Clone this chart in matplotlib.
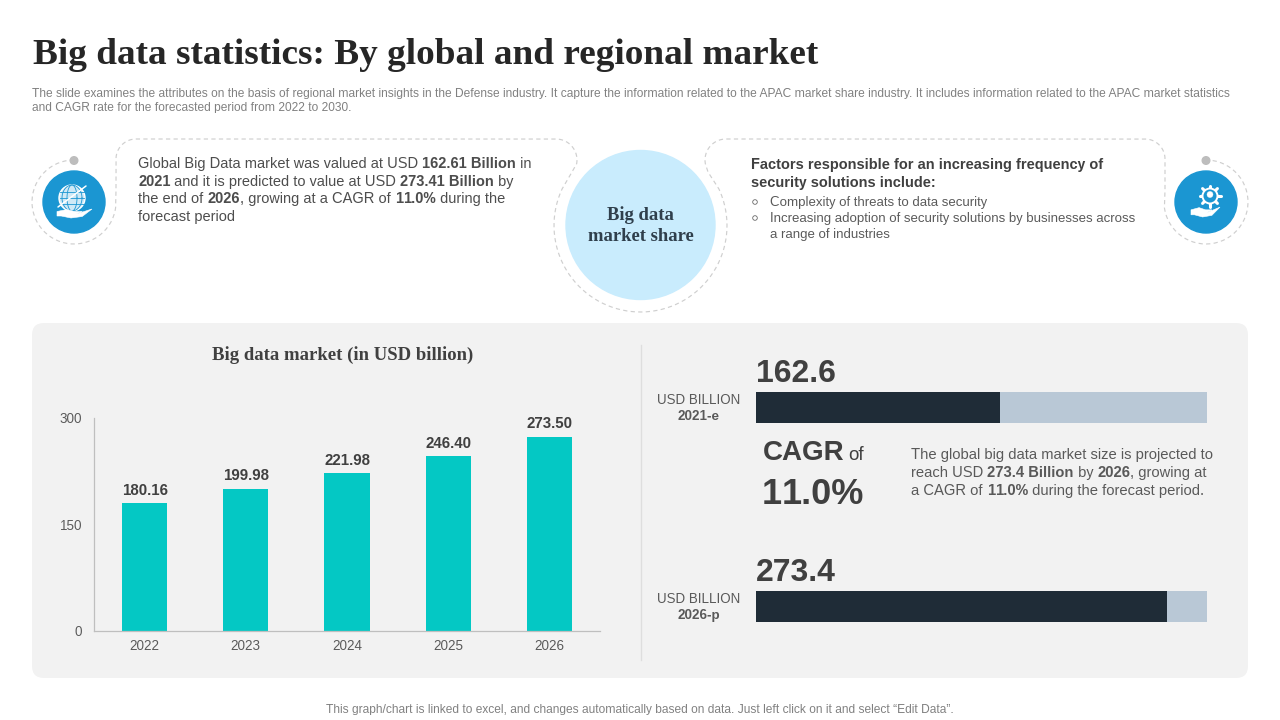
import numpy as np
import matplotlib
matplotlib.use("Agg")
import matplotlib.pyplot as plt
from matplotlib.patches import FancyBboxPatch, Circle, Polygon

years = ["2022", "2023", "2024", "2025", "2026"]
market = [180.16, 199.98, 221.98, 246.40, 273.50]
market_labels = ["180.16", "199.98", "221.98", "246.40", "273.50"]
yticks = [0, 150, 300]
share_values = [162.6, 273.4]
share_max = 300
share_labels = ["162.6", "273.4"]
share_periods = ["2021-e", "2026-p"]

SANS = "Liberation Sans"
SERIF = "Liberation Serif"
DARK = "#404040"
GREY = "#7f7f7f"
TEAL = "#04c8c4"
NAVY = "#1f2c37"
TRACK = "#b9c8d6"
BLUE = "#1b96d2"
DASH = "#cfcfcf"

plt.rcParams["font.family"] = [SANS, "DejaVu Sans"]
plt.rcParams["text.hinting"] = "no_autohint"
fig = plt.figure(figsize=(12.8, 7.2), dpi=100, facecolor="white")


def px_axes(x0, y0, x1, y1, **kw):
    return fig.add_axes([x0 / 1280, 1 - y1 / 720, (x1 - x0) / 1280, (y1 - y0) / 720], **kw)


ov = px_axes(0, 0, 1280, 720)
ov.set_xlim(0, 1280)
ov.set_ylim(720, 0)
ov.axis("off")
renderer = fig.canvas.get_renderer()


def rich(x, y, runs, size, color=DARK, family=SANS):
    """Draw one line of (text, bold) runs, left aligned at pixel x, baseline y."""
    for s, bold in runs:
        ov.text(x, y, s, fontsize=size, color=color, family=family,
                fontweight="bold" if bold else "normal", va="baseline", ha="left", zorder=3)
        probe = ov.text(0, 0, s.replace(" ", "\u00a0"), fontsize=size, family=family,
                        fontweight="bold" if bold else "normal")
        x += probe.get_window_extent(renderer).width
        probe.remove()
    return x


def arc(cx, cy, r, a0, a1, n=60):
    a = np.radians(np.linspace(a0, a1, n))
    return np.column_stack([cx + r * np.cos(a), cy + r * np.sin(a)])


# Title and intro
ov.text(33, 64, "Big data statistics: By global and regional market", family=SERIF,
        fontweight="bold", fontsize=26.83, color="#262626", va="baseline")
ov.text(32, 97, "The slide examines the attributes on the basis of regional market insights in the Defense industry. It capture the information related to the APAC market share industry. It includes information related to the APAC market statistics",
        fontsize=8.66, color=GREY, va="baseline")
ov.text(32, 111, "and CAGR rate for the forecasted period from 2022 to 2030.", fontsize=8.66, color=GREY, va="baseline")

# Outline of the callouts
outline = np.vstack([
    arc(74, 202, 42, -90, -352, 90),
    [[116, 190]], [[116, 159]],
    arc(136, 159, 20, 180, 270, 20),
    [[556, 139]],
    arc(556, 160, 21, -90, 10, 30),
    [[572, 172]],
    arc(640.5, 225.5, 86.5, 205, -25, 140),
    [[708, 172]],
    arc(726, 160, 21, 170, 270, 30),
    [[1145, 139]],
    arc(1145, 159, 20, -90, 0, 20),
    [[1165, 190]],
    arc(1206, 202, 42, 172, -90, 90),
])
ov.plot(outline[:, 0], outline[:, 1], color=DASH, lw=0.85, ls=(0, (3.6, 2.8)), zorder=1)
ov.add_patch(Circle((74, 160.5), 3.8, color="#bdbdbd", zorder=3))
ov.add_patch(Circle((1206, 160.5), 3.8, color="#bdbdbd", zorder=3))

# Blue circles with white outline icons
for cx in (74, 1206):
    ov.add_patch(Circle((cx, 202), 31, color=BLUE, zorder=3))


def white_line(xs, ys, lw=1.1):
    ov.plot(xs, ys, color="white", lw=lw, zorder=6, solid_capstyle="round")


def hand(x0, y0, w, h):
    xs = x0 + w * np.array([0.0, 0.28, 0.5, 0.72, 0.55, 1.0, 0.72, 0.4, 0.12, 0.0])
    ys = y0 + h * np.array([0.35, 0.15, 0.35, 0.35, 0.6, 0.1, 0.85, 1.0, 0.8, 0.8])
    ov.add_patch(Polygon(np.column_stack([xs, ys]), closed=True, fc="white", ec="white", lw=0.4, zorder=5))


# Globe
ov.add_patch(Circle((72, 198), 13, fc="#cfe9f6", ec="white", lw=1.0, zorder=4))
for w in (5, 10):
    p = arc(0, 0, 1, 0, 360)
    ov.plot(72 + p[:, 0] * w, 198 + p[:, 1] * 13, color=BLUE, lw=0.6, zorder=5)
for dy in (-6, 0, 6):
    ov.plot([60, 84], [198 + dy, 198 + dy], color=BLUE, lw=0.6, zorder=5)
white_line([58, 86], [207, 186], 1.1)
hand(57, 208, 35, 10)

# Gear
for a in np.radians(np.arange(0, 360, 45)):
    white_line([1210 + 7 * np.cos(a), 1210 + 10.5 * np.cos(a)],
               [196 + 7 * np.sin(a), 196 + 10.5 * np.sin(a)], 2.2)
ov.add_patch(Circle((1210, 196), 7.5, fc=BLUE, ec="white", lw=1.4, zorder=7))
ov.add_patch(Circle((1210, 194.5), 3, fc="white", ec="white", lw=0.3, zorder=8))
hand(1191, 206, 29, 11)

# Centre bubble
ov.add_patch(Circle((640.5, 225), 74.5, color="#c9ecfd", zorder=2))
ov.text(640.5, 220, "Big data", family=SERIF, fontweight="bold", fontsize=13.4, color="#2f3f4c",
        ha="center", va="baseline", zorder=3)
ov.text(640.5, 241, "market share", family=SERIF, fontweight="bold", fontsize=13.4, color="#2f3f4c",
        ha="center", va="baseline", zorder=3)

# Left text
lsz = 10.54
rich(138, 168, [("Global Big Data market was valued at USD ", 0), ("162.61 Billion", 1), (" in", 0)], lsz, "#4d4d4d")
rich(138, 186, [("2021", 1), (" and it is predicted to value at USD ", 0), ("273.41 Billion", 1), (" by", 0)], lsz, "#4d4d4d")
rich(138, 203, [("the end of ", 0), ("2026", 1), (", growing at a CAGR of ", 0), ("1", 1), ("1.0%", 1), (" during the", 0)], lsz, "#4d4d4d")
rich(138, 221, [("forecast period", 0)], lsz, "#4d4d4d")

# Right text
rich(751, 169, [("Factors responsible for an increasing frequency of", 1)], 10.56, DARK)
rich(751, 187, [("security solutions include:", 1)], 10.56, DARK)
for y, s in [(206, "Complexity of threats to data security"),
             (222, "Increasing adoption of security solutions by businesses across"),
             (238, "a range of industries")]:
    ov.text(770, y, s, fontsize=9.53, color="#595959", va="baseline")
for y in (202, 218):
    ov.add_patch(Circle((755, y), 2.3, fc="white", ec="#6a6a6a", lw=0.6))

# Panel
ov.add_patch(FancyBboxPatch((32, 323), 1216, 355, boxstyle="round,pad=0,rounding_size=12",
                            mutation_scale=1, fc="#f2f2f2", ec="none", zorder=1))
ov.plot([641, 641], [345, 660], color="#dedede", lw=1, zorder=2)
ov.text(343, 360, "Big data market (in USD billion)", family=SERIF, fontweight="bold", fontsize=13.5,
        color=DARK, ha="center", va="baseline", zorder=3)

# Column chart
ax = px_axes(94, 418, 600, 631)
ax.patch.set_alpha(0)
ax.bar(years, market, width=0.445, color=TEAL, zorder=2)
ax.set_xlim(-0.5, 4.5)
ax.set_ylim(0, 300)
ax.set_yticks(yticks)
for s in ("top", "right"):
    ax.spines[s].set_visible(False)
for s in ("left", "bottom"):
    ax.spines[s].set_color("#bfbfbf")
    ax.spines[s].set_linewidth(0.9)
ax.tick_params(axis="both", length=0, labelsize=9.7, labelcolor="#595959")
ax.tick_params(axis="x", pad=6.5)
ax.tick_params(axis="y", pad=8.6)
for i, (v, lab) in enumerate(zip(market, market_labels)):
    ax.annotate(lab, (i, v), xytext=(0, 4), textcoords="offset points", ha="center", va="bottom",
                fontsize=10.8, fontweight="bold", color=DARK)

# Share bars
for (top, v, lab, per) in zip((392, 591), share_values, share_labels, share_periods):
    a = px_axes(756, top, 1207, top + 31)
    a.barh([0], [share_max], height=1, color=TRACK)
    a.barh([0], [v], height=1, color=NAVY)
    a.set_xlim(0, share_max)
    a.set_ylim(-0.5, 0.5)
    a.axis("off")
    ov.text(756, top - 10, lab, fontsize=23, fontweight="bold", color=DARK, va="baseline", zorder=3)
    ov.text(698.5, top + 12, "USD BILLION", fontsize=9.6, color="#595959", ha="center", va="baseline", zorder=3)
    ov.text(698.5, top + 28, per, fontsize=9.6, fontweight="bold", color="#595959", ha="center", va="baseline", zorder=3)

# CAGR block
end = rich(763, 460, [("CAGR", 1)], 20, DARK)
ov.text(end + 4, 460, "of", fontsize=13.5, color=DARK, va="baseline", zorder=3)
rich(762, 504, [("1", 1), ("1.0%", 1)], 26, DARK)
dsz = 10.58
rich(911, 459, [("The global big data market size is projected to", 0)], dsz, "#595959")
rich(911, 477, [("reach USD ", 0), ("273.4 Billion", 1), (" by ", 0), ("2026", 1), (", growing at", 0)], dsz, "#595959")
rich(911, 495, [("a CAGR of ", 0), ("1", 1), ("1.0%", 1), (" during the forecast period.", 0)], dsz, "#595959")

ov.text(640, 713, "This graph/chart is linked to excel, and changes automatically based on data. Just left click on it and select \u201cEdit Data\u201d.",
        fontsize=8.67, color=GREY, ha="center", va="baseline")

fig.savefig("out.png", dpi=100)
